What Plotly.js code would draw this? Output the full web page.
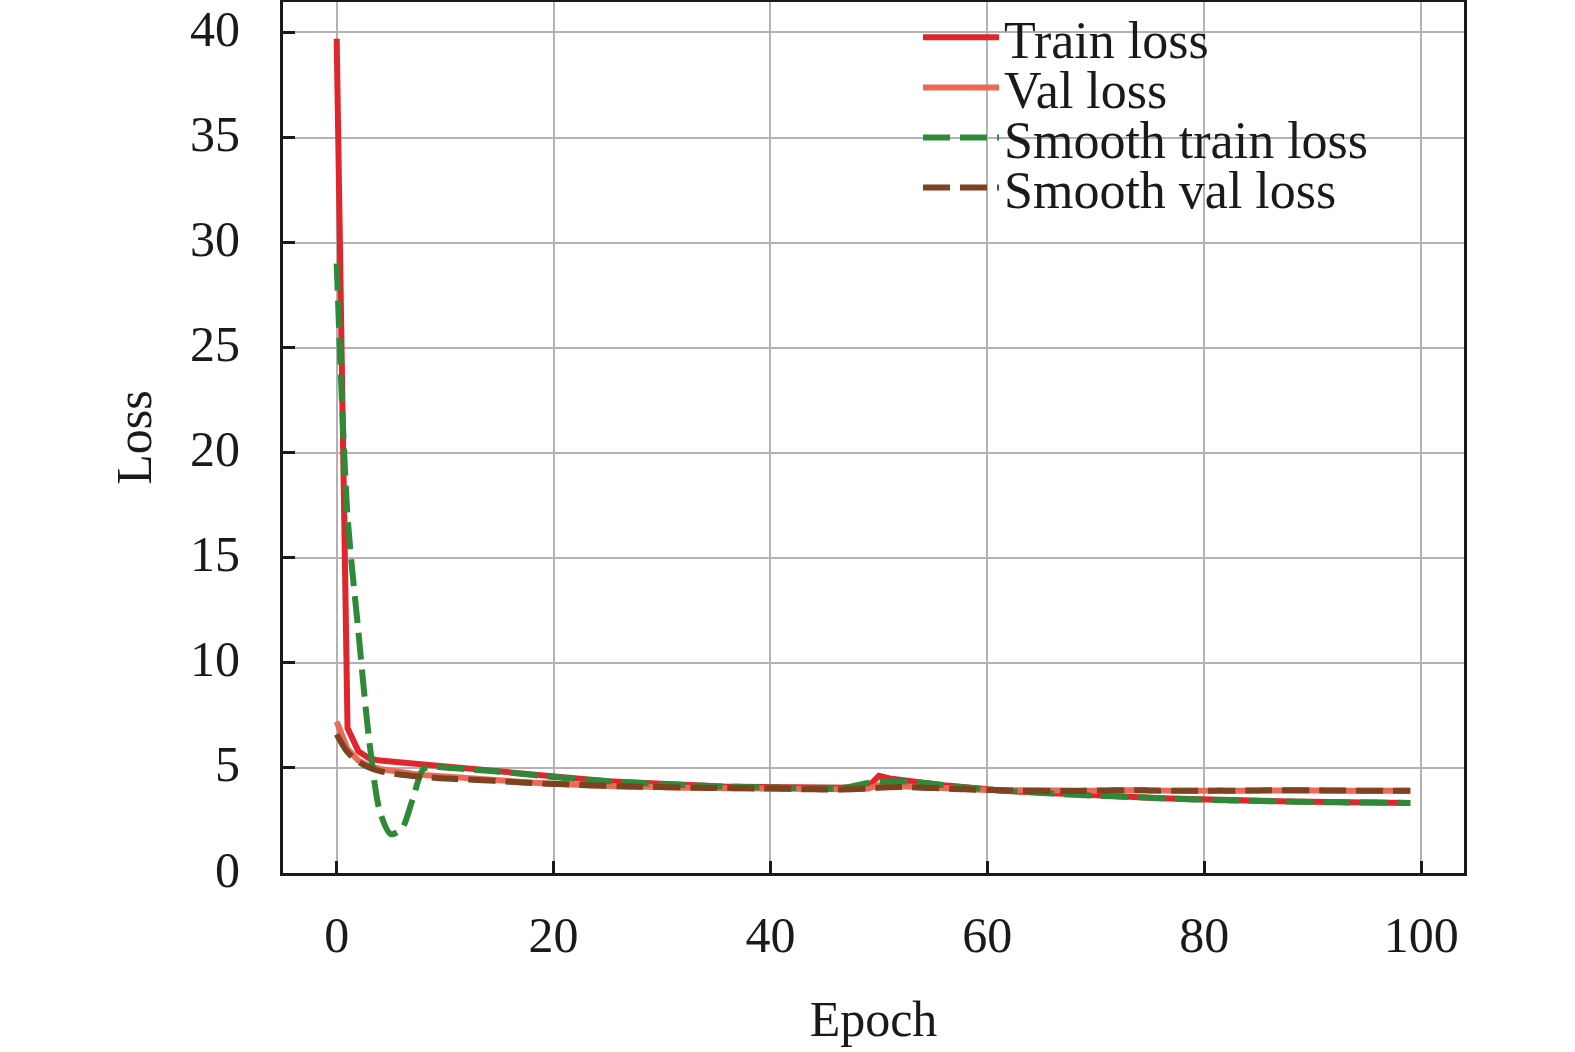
<!DOCTYPE html>
<html>
<head>
<meta charset="utf-8">
<script src="https://cdn.plot.ly/plotly-3.0.1.min.js"></script>
<style>
    html, body { margin: 0; padding: 0; background: #ffffff; }
    #chart { width: 1575px; height: 1052px; }
</style>
</head>
<body>
<div id="chart"></div>
<script>
const epochs = [
    0, 1, 2, 3, 4, 5, 6, 7, 8, 9,
    10, 11, 12, 13, 14, 15, 16, 17, 18, 19,
    20, 21, 22, 23, 24, 25, 26, 27, 28, 29,
    30, 31, 32, 33, 34, 35, 36, 37, 38, 39,
    40, 41, 42, 43, 44, 45, 46, 47, 48, 49,
    50, 51, 52, 53, 54, 55, 56, 57, 58, 59,
    60, 61, 62, 63, 64, 65, 66, 67, 68, 69,
    70, 71, 72, 73, 74, 75, 76, 77, 78, 79,
    80, 81, 82, 83, 84, 85, 86, 87, 88, 89,
    90, 91, 92, 93, 94, 95, 96, 97, 98, 99,
];

const trainLoss = [
    39.7, 6.9, 5.8, 5.45, 5.35, 5.3, 5.25, 5.2, 5.15, 5.1,
    5.05, 5.0, 4.95, 4.9, 4.86, 4.82, 4.77, 4.72, 4.67, 4.62,
    4.57, 4.52, 4.48, 4.44, 4.4, 4.37, 4.34, 4.31, 4.28, 4.25,
    4.23, 4.21, 4.19, 4.17, 4.15, 4.13, 4.11, 4.1, 4.09, 4.08,
    4.07, 4.06, 4.05, 4.04, 4.03, 4.02, 4.01, 4.03, 4.06, 4.1,
    4.62, 4.5, 4.42, 4.36, 4.3, 4.24, 4.18, 4.12, 4.07, 4.02,
    3.98, 3.94, 3.9, 3.87, 3.84, 3.81, 3.78, 3.75, 3.72, 3.7,
    3.68, 3.66, 3.64, 3.62, 3.6, 3.58, 3.56, 3.54, 3.52, 3.5,
    3.49, 3.47, 3.46, 3.45, 3.44, 3.43, 3.42, 3.41, 3.4, 3.39,
    3.38, 3.37, 3.37, 3.36, 3.36, 3.35, 3.35, 3.34, 3.34, 3.33,
];

const valLoss = [
    7.2, 5.9, 5.35, 5.1, 4.95, 4.85, 4.78, 4.72, 4.66, 4.62,
    4.58, 4.54, 4.48, 4.5, 4.44, 4.4, 4.36, 4.33, 4.3, 4.27,
    4.25, 4.22, 4.21, 4.18, 4.16, 4.15, 4.13, 4.11, 4.12, 4.09,
    4.08, 4.07, 4.06, 4.06, 4.05, 4.04, 4.04, 4.03, 4.03, 4.02,
    4.02, 4.01, 4.0, 3.98, 3.96, 3.95, 3.96, 3.98, 4.0, 4.02,
    4.18, 4.15, 4.12, 4.1, 4.07, 4.05, 4.02, 4.0, 3.98, 3.96,
    3.95, 3.94, 3.93, 3.92, 3.92, 3.91, 3.91, 3.9, 3.9, 3.9,
    3.91, 3.92, 3.95, 3.96, 3.95, 3.93, 3.92, 3.92, 3.91, 3.91,
    3.92, 3.92, 3.91, 3.91, 3.92, 3.93, 3.93, 3.94, 3.94, 3.95,
    3.94, 3.93, 3.93, 3.92, 3.92, 3.92, 3.92, 3.92, 3.91, 3.91,
];

const smoothTrainLoss = [
    29.0, 17.0, 11.5, 6.3, 2.9, 1.85, 2.1, 3.5, 4.95, 5.05,
    5.02, 4.98, 4.94, 4.9, 4.86, 4.82, 4.77, 4.72, 4.67, 4.62,
    4.57, 4.52, 4.48, 4.44, 4.4, 4.37, 4.34, 4.31, 4.28, 4.25,
    4.23, 4.21, 4.19, 4.17, 4.15, 4.13, 4.11, 4.1, 4.09, 4.08,
    4.07, 4.06, 4.05, 4.04, 4.02, 4.01, 4.02, 4.08, 4.18, 4.28,
    4.34, 4.36, 4.36, 4.34, 4.3, 4.24, 4.18, 4.12, 4.07, 4.02,
    3.98, 3.94, 3.9, 3.87, 3.84, 3.81, 3.78, 3.75, 3.72, 3.7,
    3.68, 3.66, 3.64, 3.62, 3.6, 3.58, 3.56, 3.54, 3.52, 3.5,
    3.49, 3.47, 3.46, 3.45, 3.44, 3.43, 3.42, 3.41, 3.4, 3.39,
    3.38, 3.37, 3.37, 3.36, 3.36, 3.35, 3.35, 3.34, 3.34, 3.33,
];

const smoothValLoss = [
    6.6, 5.75, 5.3, 5.02, 4.85, 4.75, 4.68, 4.62, 4.57, 4.53,
    4.5, 4.47, 4.45, 4.43, 4.4, 4.37, 4.34, 4.31, 4.28, 4.26,
    4.24, 4.22, 4.2, 4.18, 4.16, 4.15, 4.13, 4.12, 4.11, 4.1,
    4.09, 4.08, 4.07, 4.06, 4.05, 4.05, 4.04, 4.03, 4.03, 4.02,
    4.02, 4.01, 4.0, 3.99, 3.98, 3.97, 3.97, 3.98, 4.0, 4.03,
    4.06, 4.08, 4.09, 4.08, 4.06, 4.04, 4.02, 4.0, 3.98, 3.96,
    3.95, 3.94, 3.93, 3.92, 3.91, 3.91, 3.9, 3.9, 3.9, 3.91,
    3.92, 3.93, 3.94, 3.94, 3.94, 3.93, 3.92, 3.92, 3.91, 3.91,
    3.91, 3.92, 3.92, 3.92, 3.93, 3.93, 3.94, 3.94, 3.94, 3.94,
    3.94, 3.93, 3.93, 3.93, 3.92, 3.92, 3.92, 3.92, 3.92, 3.92,
];

const seriesNames = ["Train loss", "Val loss", "Smooth train loss", "Smooth val loss"];
const xTicks = [0, 20, 40, 60, 80, 100];
const yTicks = [0, 5, 10, 15, 20, 25, 30, 35, 40];

const serifFont = "\"Liberation Serif\", \"Times New Roman\", Times, serif";

const traces = [
    {
        type: "scatter",
        mode: "lines",
        name: seriesNames[0],
        x: epochs,
        y: trainLoss,
        line: { color: "#e0262d", width: 6 },
        legend: "legend",
    },
    {
        type: "scatter",
        mode: "lines",
        name: seriesNames[1],
        x: epochs,
        y: valLoss,
        line: { color: "#ec6a56", width: 6 },
        legend: "legend2",
    },
    {
        type: "scatter",
        mode: "lines",
        name: seriesNames[2],
        x: epochs,
        y: smoothTrainLoss,
        line: { color: "#2e8a38", width: 6, dash: "27px,10px", shape: "spline", smoothing: 0.8 },
        legend: "legend3",
    },
    {
        type: "scatter",
        mode: "lines",
        name: seriesNames[3],
        x: epochs,
        y: smoothValLoss,
        line: { color: "#7c4222", width: 6, dash: "27px,10px", shape: "spline", smoothing: 0.8 },
        legend: "legend4",
    },
];

// one legend per row so the rows can sit as tight as in the picture
function legendRow(y) {
    return {
        x: 0.5377,
        xanchor: "left",
        y: y,
        yanchor: "middle",
        bgcolor: "rgba(0, 0, 0, 0)",
        borderwidth: 0,
        itemwidth: 76,
        font: { family: serifFont, size: 52, color: "#1a1a1a" },
    };
}

const axisCommon = {
    showline: true,
    linecolor: "#1a1a1a",
    linewidth: 3,
    mirror: true,
    ticks: "inside",
    ticklen: 12,
    tickwidth: 3,
    tickcolor: "#1a1a1a",
    showgrid: true,
    gridcolor: "#b3b3b3",
    gridwidth: 2,
    zeroline: false,
    tickfont: { family: serifFont, size: 50, color: "#1a1a1a" },
};

const layout = {
    width: 1575,
    height: 1052,
    margin: { t: 2, r: 111, b: 179, l: 283, autoexpand: false },
    paper_bgcolor: "#ffffff",
    plot_bgcolor: "#ffffff",
    font: { family: serifFont, size: 50, color: "#1a1a1a" },
    showlegend: true,
    xaxis: {
        ...axisCommon,
        range: [-4.95, 103.95],
        tickvals: xTicks,
        ticktext: xTicks.map(String),
        ticklabelstandoff: 16,
        title: { text: "Epoch", font: { family: serifFont, size: 50 }, standoff: 39 },
    },
    yaxis: {
        ...axisCommon,
        range: [0, 41.45],
        tickvals: yTicks,
        ticktext: yTicks.map(String),
        ticklabelstandoff: 30,
        ticklabelshift: -4,
        title: { text: "Loss", font: { family: serifFont, size: 50 }, standoff: 23 },
    },
    legend: legendRow(0.9592),
    legend2: legendRow(0.9017),
    legend3: legendRow(0.8443),
    legend4: legendRow(0.7867),
    shapes: [
        {
            type: "rect",
            xref: "paper",
            yref: "paper",
            x0: 0.512,
            x1: 0.9924,
            y0: 0.7245,
            y1: 0.997,
            fillcolor: "#ffffff",
            line: { width: 0 },
            layer: "between",
        },
    ],
};

Plotly.newPlot("chart", traces, layout, { displayModeBar: false, staticPlot: true });
</script>
</body>
</html>
